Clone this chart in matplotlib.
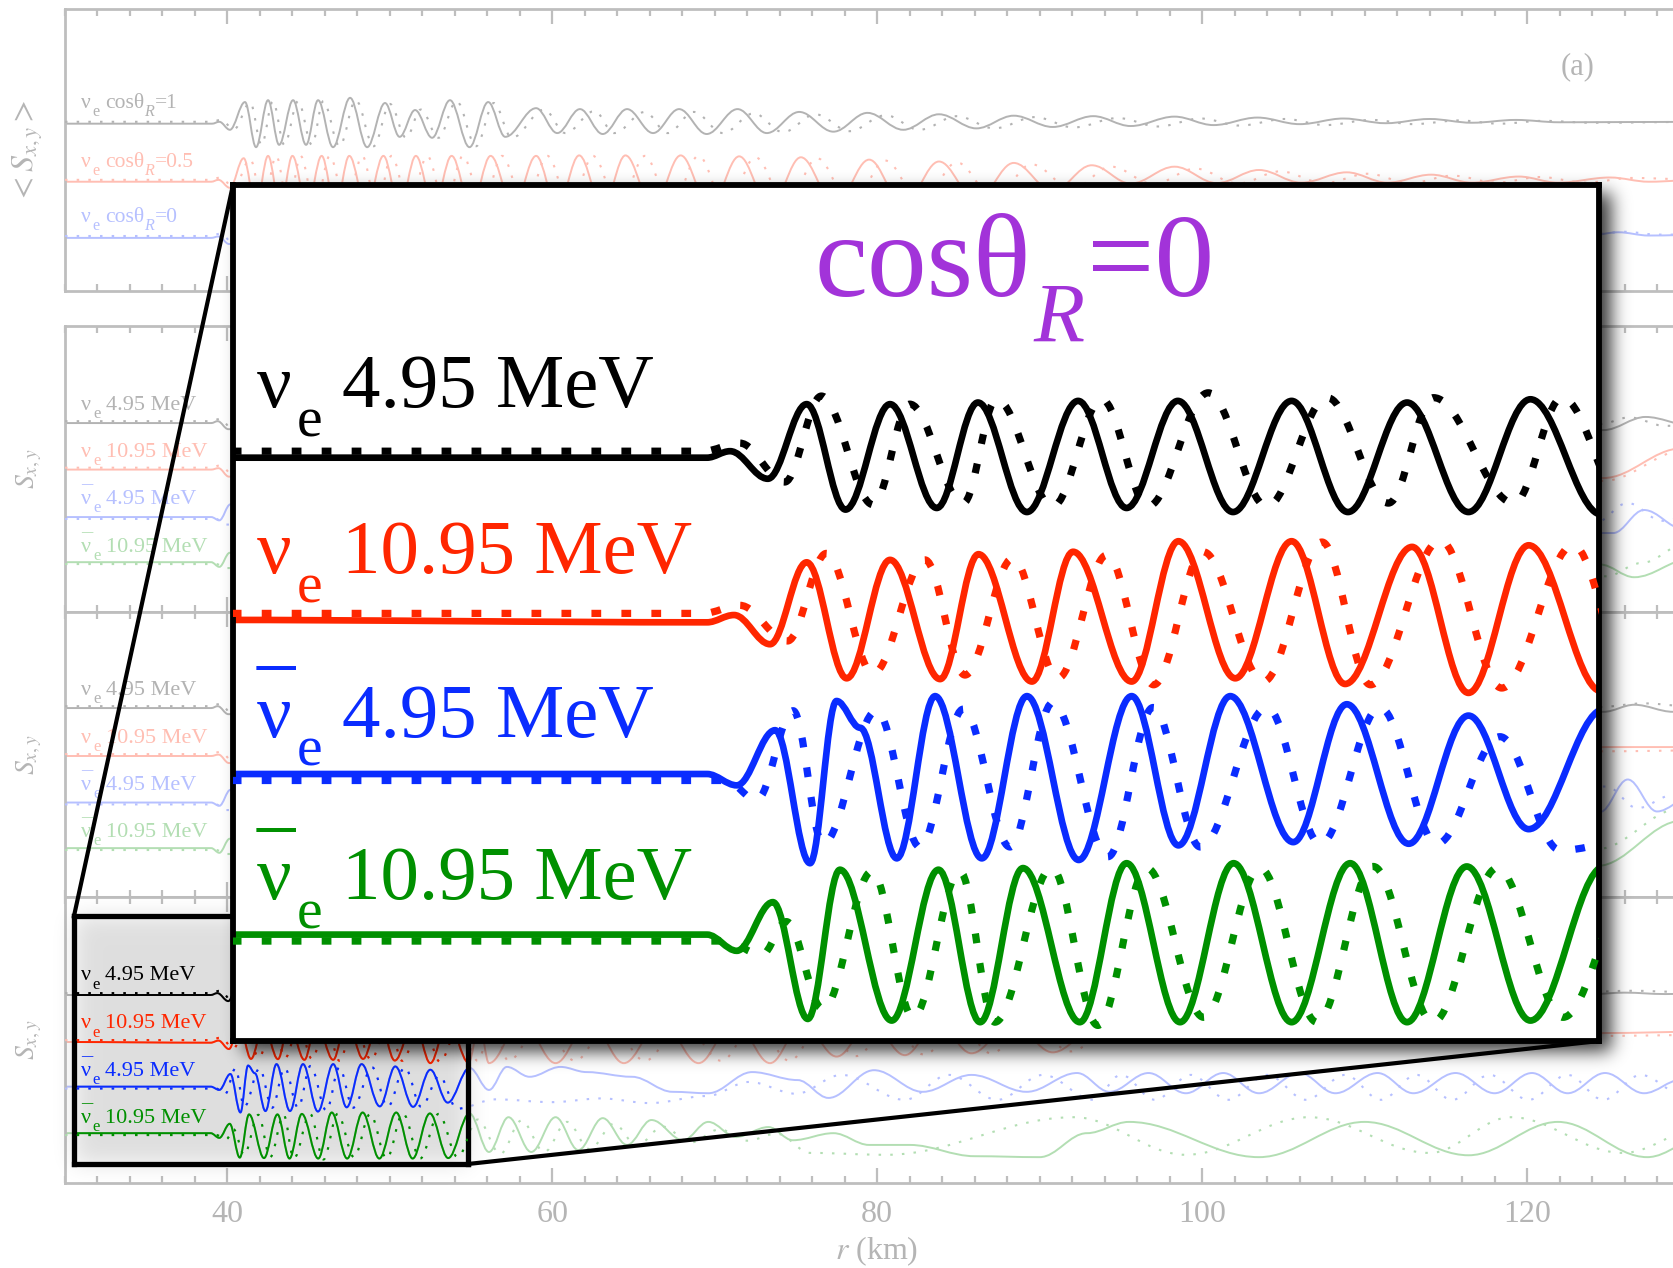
import numpy as np
import matplotlib
matplotlib.use("Agg")
import matplotlib.pyplot as plt
from matplotlib.path import Path
from matplotlib.patches import PathPatch
from matplotlib.lines import Line2D
from matplotlib.ticker import MultipleLocator
from matplotlib.colors import to_rgb

# ---------------- data (r in km, S relative to each curve's own offset) ----------------
# panel 1 : nu_e with cos(theta_R) = 1, 0.5, 0
p1_cos1_r = [30, 39.05, 39.5, 40.15, 41.08, 41.76, 42.5, 43.18, 44.04, 44.84, 45.58, 46.5, 47.55, 48.6, 49.7, 50.6,
             51.55, 52.6, 53.7, 54.9, 56.05, 57.1, 59.0, 60.3, 61.7, 63.1, 64.6, 66.2, 67.8, 69.5, 71.4, 73.2, 75.2,
             77.3, 79.4, 81.6, 83.8, 86.1, 88.4, 90.8, 93.3, 95.6, 98.3, 100.7, 103.4, 106.0, 108.7, 111.3, 114.0,
             116.6, 119.3, 122, 131]
p1_cos1_s = [0, 0, 0.04, -0.13, 0.46, -0.50, 0.50, -0.45, 0.50, -0.45, 0.50, -0.50, 0.55, -0.50, 0.44, -0.28,
             0.29, -0.30, 0.50, -0.50, 0.46, -0.28, 0.33, -0.20, 0.31, -0.22, 0.31, -0.20, 0.31, -0.22, 0.31, -0.20,
             0.25, -0.17, 0.23, -0.13, 0.20, -0.10, 0.17, -0.07, 0.16, -0.05, 0.15, -0.03, 0.13, -0.01, 0.11, 0.01,
             0.10, 0.02, 0.08, 0.03, 0.04]
p1_cos1_dot_r = [30, 39.0, 39.6, 40.4, 41.4, 42.1, 42.8, 43.5, 44.35, 45.2, 45.9, 46.9, 47.9, 49.0, 50.0, 51.0,
                 51.9, 53.0, 54.1, 55.3, 56.4, 57.5, 59.5, 60.8, 62.6, 63.8, 65.7, 67.1, 68.7, 70.5, 72.4, 74.2,
                 76.2, 78.3, 80.5, 82.6, 84.9, 87.2, 89.7, 92.1, 94.8, 97.3, 99.9, 102.3, 105.1, 107.6, 110.4,
                 113.0, 115.8, 118.3, 121.0, 124, 131]
p1_cos1_dot_s = [0.04, 0.04, 0.08, -0.12, 0.45, -0.45, 0.48, -0.45, 0.48, -0.45, 0.48, -0.48, 0.50, -0.48, 0.42,
                 -0.3, 0.3, -0.3, 0.48, -0.48, 0.44, -0.3, 0.3, -0.2, 0.27, -0.2, 0.25, -0.2, 0.25, -0.2, 0.22,
                 -0.18, 0.2, -0.16, 0.18, -0.13, 0.16, -0.1, 0.14, -0.08, 0.12, -0.06, 0.11, -0.04, 0.10, -0.03,
                 0.08, -0.01, 0.07, 0.0, 0.06, 0.02, 0.04]
p1_cos05_r = [30, 39.0, 39.45, 40.15, 41.0, 41.75, 42.5, 43.25, 44.0, 44.9, 45.8, 46.65, 47.5, 48.55, 49.6, 50.6,
              51.6, 52.7, 53.8, 55.0, 56.2, 57.6, 59.0, 60.3, 61.65, 63.1, 64.5, 66.2, 67.9, 69.7, 71.5, 73.4, 75.3,
              77.4, 79.5, 81.6, 83.8, 86.1, 88.4, 90.8, 93.2, 95.6, 98.3, 100.9, 103.5, 106.1, 108.9, 111.4, 114.1,
              116.6, 119.5, 121.9, 125.1, 127.5, 131]
p1_cos05_s = [0, 0, 0.04, -0.13, 0.50, -0.55, 0.55, -0.55, 0.55, -0.55, 0.55, -0.55, 0.55, -0.55, 0.55, -0.55,
              0.55, -0.55, 0.55, -0.55, 0.55, -0.55, 0.55, -0.55, 0.56, -0.55, 0.56, -0.55, 0.56, -0.55, 0.54, -0.55,
              0.52, -0.5, 0.47, -0.5, 0.43, -0.4, 0.40, -0.2, 0.35, -0.04, 0.32, -0.03, 0.25, -0.02, 0.20, -0.02,
              0.15, -0.02, 0.11, -0.02, 0.09, 0.0, 0.05]
p1_cos05_dot_r = [30, 39.0, 39.55, 40.4, 41.4, 42.2, 43.0, 43.75, 44.5, 45.4, 46.3, 47.3, 48.3, 49.2, 50.1, 51.2,
                  52.3, 53.4, 54.5, 55.7, 56.9, 58.3, 59.7, 61.1, 62.5, 64.1, 65.7, 67.3, 69.0, 70.7, 72.5, 74.4,
                  76.3, 78.4, 80.5, 82.7, 84.9, 87.2, 89.5, 92.0, 94.4, 97.0, 99.6, 102.2, 104.8, 107.5, 110.2,
                  112.8, 115.4, 118.1, 120.8, 123.6, 126.4, 131]
p1_cos05_dot_s = [0.04, 0.04, 0.09, -0.12, 0.48, -0.55, 0.55, -0.55, 0.55, -0.55, 0.55, -0.55, 0.55, -0.55, 0.55,
                  -0.55, 0.55, -0.55, 0.55, -0.55, 0.55, -0.55, 0.55, -0.55, 0.55, -0.55, 0.55, -0.55, 0.55, -0.55,
                  0.52, -0.5, 0.50, -0.5, 0.45, -0.45, 0.41, -0.35, 0.37, -0.15, 0.32, -0.05, 0.28, -0.04, 0.22,
                  -0.03, 0.17, -0.03, 0.13, -0.02, 0.10, -0.02, 0.08, 0.04]
p1_cos0_r = [30, 39.0, 39.45, 40.1, 124.0, 125.6, 127.5, 131]
p1_cos0_s = [0, 0, 0.03, -0.13, 0.06, 0.12, 0.05, 0.07]
p1_cos0_dot_r = [30, 39.0, 39.55, 40.4, 124.2, 126.0, 128.0, 131]
p1_cos0_dot_s = [0.04, 0.04, 0.09, -0.12, 0.08, 0.13, 0.07, 0.07]

# panel 2 -- only the parts left of and right of the inset can be read
p2_nue5_r = [30, 39.0, 39.4, 40.05, 124.7, 127.3, 130]
p2_nue5_s = [0, 0, 0.04, -0.13, -0.15, 0.13, -0.04]
p2_nue5_dot_r = [30, 39.0, 39.55, 40.35, 124.5, 126.3, 128.5, 131]
p2_nue5_dot_s = [0.04, 0.04, 0.09, -0.15, -0.02, 0.12, -0.06, 0.0]
p2_nue11_r = [30, 39.0, 39.45, 40.09, 124.7, 129.5]
p2_nue11_s = [0, 0, 0.03, -0.15, -0.18, 0.45]
p2_nue11_dot_r = [30, 39.0, 39.55, 40.4, 124.7, 129.8]
p2_nue11_dot_s = [0.04, 0.04, 0.09, -0.13, -0.24, 0.42]
p2_nub5_r = [30, 39.0, 39.5, 40.18, 125.3, 127.2, 129.6]
p2_nub5_s = [0, 0, -0.07, 0.27, -0.34, 0.15, -0.25]
p2_nub5_dot_r = [30, 39.0, 39.3, 39.85, 124.2, 126.2, 128.3, 131]
p2_nub5_dot_s = [-0.04, -0.04, -0.04, -0.16, -0.12, 0.30, -0.08, 0.1]
p2_nub11_r = [30, 39.0, 39.5, 40.14, 124.5, 126.6, 130]
p2_nub11_s = [0.02, 0.02, -0.08, 0.22, -0.03, -0.30, 0.08]
p2_nub11_dot_r = [30, 39.0, 39.3, 39.94, 124.9, 127.0, 130]
p2_nub11_dot_s = [-0.02, -0.02, -0.02, -0.105, -0.28, 0.0, 0.45]

# panel 3
p3_nue5_r = [30, 39.0, 39.4, 40.05, 124.7, 126.6, 129.0, 131]
p3_nue5_s = [0, 0, 0.04, -0.13, -0.08, 0.07, -0.08, -0.03]
p3_nue5_dot_r = [30, 39.0, 39.55, 40.35, 124.4, 127.2, 131]
p3_nue5_dot_s = [0.04, 0.04, 0.09, -0.15, 0.02, 0.10, 0.0]
p3_nue11_r = [30, 39.0, 39.45, 40.09, 124.7, 131]
p3_nue11_s = [0, 0, 0.03, -0.15, 0.19, 0.19]
p3_nue11_dot_r = [30, 39.0, 39.55, 40.4, 124.7, 131]
p3_nue11_dot_s = [0.04, 0.04, 0.09, -0.13, 0.1, 0.12]
p3_nub5_r = [30, 39.0, 39.5, 40.18, 124.5, 126.2, 128.0, 130]
p3_nub5_s = [0, 0, -0.07, 0.27, -0.2, 0.49, -0.19, 0.1]
p3_nub5_dot_r = [30, 39.0, 39.3, 39.85, 124.9, 126.8, 128.9, 131]
p3_nub5_dot_s = [-0.04, -0.04, -0.04, -0.16, 0.34, -0.12, 0.15, 0.0]
p3_nub11_r = [30, 39.0, 39.5, 40.14, 124.3, 129.5]
p3_nub11_s = [0.02, 0.02, -0.08, 0.22, -0.36, 0.6]
p3_nub11_dot_r = [30, 39.0, 39.3, 39.94, 124.3, 129.5]
p3_nub11_dot_s = [-0.02, -0.02, -0.02, -0.105, 0.0, 0.87]

# panel 4 (cos = 0) -- the one that is magnified
p4_nue5_r = [30, 38.97, 39.38, 40.05, 40.74, 41.43, 42.22, 43.05, 43.78, 44.65, 45.56, 46.42, 47.33, 48.31, 49.35,
             50.35, 51.40, 52.49, 53.59, 54.85, 124.0, 126.0, 128.5, 131]
p4_nue5_s = [0, 0, 0.04, -0.13, 0.33, -0.32, 0.33, -0.31, 0.34, -0.335, 0.35, -0.31, 0.35, -0.335, 0.35, -0.335,
             0.34, -0.335, 0.36, -0.35, 0.02, 0.05, 0.02, 0.03]
p4_nue5_dot_r = [30, 38.9, 39.55, 40.35, 41.0, 41.92, 42.57, 43.52, 44.11, 45.11, 45.98, 46.8, 47.87, 48.91, 49.98,
                 51.07, 51.87, 53.3, 54.15, 55.3, 124, 126.5, 129, 131]
p4_nue5_dot_s = [0.04, 0.04, 0.09, -0.15, 0.38, -0.29, 0.33, -0.28, 0.36, -0.30, 0.36, -0.30, 0.40, -0.30, 0.37,
                 -0.28, 0.37, -0.28, 0.37, -0.3, 0.07, 0.09, 0.07, 0.08]
p4_nue11_r = [30, 38.97, 39.45, 40.09, 40.74, 41.45, 42.22, 43.11, 43.79, 44.74, 45.47, 46.51, 47.34, 48.35, 49.35,
              50.30, 51.49, 52.49, 53.56, 54.85, 55.5, 56.1, 58.1, 60.2, 62.3, 64.4, 66.7, 69.0, 71.2, 73.4, 75.4,
              77.5, 79.6, 81.7, 83.7, 85.8, 88.3, 90.8, 93.5, 124.5, 131]
p4_nue11_s = [0, -0.015, 0.03, -0.15, 0.355, -0.36, 0.37, -0.365, 0.405, -0.38, 0.42, -0.38, 0.485, -0.36, 0.485,
              -0.395, 0.45, -0.45, 0.46, -0.44, 0.4, -0.45, 0.45, -0.45, 0.45, -0.45, 0.45, -0.45, 0.45, -0.45, 0.4,
              -0.31, 0.4, -0.28, 0.4, -0.24, 0.4, -0.22, 0.3, 0.19, 0.22]
p4_nue11_dot_r = [30, 38.9, 39.55, 40.4, 41.09, 41.92, 42.84, 43.55, 44.4, 45.2, 46.07, 46.9, 47.78, 48.85, 49.89,
                  50.75, 51.99, 53.08, 54.35, 55.4, 56.3, 57.3, 59.3, 61.4, 63.5, 65.7, 68.0, 70.4, 72.5, 74.6,
                  76.6, 78.7, 80.8, 82.9, 85.0, 87.0, 89.4, 91.9, 94.5, 124.5, 131]
p4_nue11_dot_s = [0.04, 0.04, 0.09, -0.13, 0.41, -0.33, 0.37, -0.34, 0.38, -0.36, 0.40, -0.40, 0.42, -0.38, 0.48,
                  -0.40, 0.49, -0.42, 0.46, -0.4, 0.4, -0.4, 0.42, -0.4, 0.42, -0.4, 0.42, -0.4, 0.42, -0.4, 0.4,
                  -0.3, 0.4, -0.27, 0.4, -0.24, 0.4, -0.2, 0.3, 0.13, 0.15]
p4_nub5_r = [30, 38.97, 39.5, 40.18, 40.8, 41.27, 41.69, 42.34, 43.02, 43.85, 44.65, 45.57, 46.51, 47.34, 48.26,
             49.38, 50.33, 51.43, 52.49, 53.56, 54.9, 56.1, 57.2, 58.6, 60.5, 62.1, 64.9, 67.4, 69.6, 72.3, 75.1,
             77.0, 79.8, 82.8, 85.8, 89.2, 92.3, 94.3, 96.7, 99.0, 101.3, 103.5, 106.0, 108.2, 110.8, 113.0, 115.6,
             118.0, 120.3, 122.5, 124.8, 127.2, 129.5]
p4_nub5_s = [0, 0, -0.07, 0.27, -0.55, 0.45, 0.285, -0.52, 0.48, -0.52, 0.48, -0.53, 0.48, -0.44, 0.48, -0.42,
             0.43, -0.43, 0.36, -0.34, 0.40, -0.07, 0.42, 0.21, 0.42, 0.31, 0.21, -0.11, -0.14, 0.31, 0.14, -0.24,
             0.35, -0.11, 0.25, -0.11, 0.29, -0.11, 0.29, -0.14, 0.29, -0.14, 0.29, -0.14, 0.29, -0.14, 0.29,
             -0.14, 0.29, -0.14, 0.29, -0.14, 0.15]
p4_nub5_dot_r = [30, 38.9, 39.3, 39.85, 40.5, 41.03, 41.98, 42.75, 43.52, 44.35, 45.11, 46.09, 46.89, 47.73, 48.91,
                 49.86, 50.92, 51.93, 53.05, 54.12, 56.5, 60.0, 63.0, 66.0, 69.5, 72.1, 75.0, 77.8, 81.7, 84.4,
                 87.4, 90.2, 93.3, 95.0, 97.1, 99.3, 101.6, 104.0, 106.4, 108.8, 111.0, 113.2, 115.4, 117.7, 120.1,
                 122.5, 124.7, 127.0, 129.5]
p4_nub5_dot_s = [-0.04, -0.04, -0.04, -0.16, 0.39, -0.43, 0.39, -0.45, 0.40, -0.45, 0.44, -0.51, 0.41, -0.45, 0.41,
                 -0.43, 0.41, -0.43, 0.23, -0.47, -0.27, -0.33, -0.25, -0.35, -0.2, 0.1, -0.15, 0.25, -0.28, 0.25,
                 -0.28, 0.25, -0.28, 0.25, -0.28, 0.25, -0.28, 0.25, -0.28, 0.25, -0.28, 0.25, -0.28, 0.25, -0.28,
                 0.25, -0.28, 0.25, -0.15]
p4_nub11_r = [30, 38.97, 39.5, 40.14, 40.76, 41.33, 42.25, 43.08, 43.82, 44.58, 45.59, 46.42, 47.37, 48.32, 49.35,
              50.39, 51.4, 52.46, 53.59, 54.9, 56.1, 57.3, 58.7, 60.2, 61.6, 63.1, 64.6, 66.1, 68.05, 69.6, 71.3,
              73.3, 74.8, 77.3, 79.5, 82.0, 86.0, 90.0, 92.9, 95.5, 103.5, 110.0, 116.4, 121.9, 127.4, 131]
p4_nub11_s = [0.02, 0.02, -0.08, 0.22, -0.50, 0.42, -0.51, 0.42, -0.52, 0.43, -0.52, 0.46, -0.52, 0.46, -0.52,
              0.46, -0.52, 0.44, -0.51, 0.44, -0.38, 0.36, -0.38, 0.36, -0.34, 0.34, -0.23, 0.30, -0.13, 0.26,
              -0.06, 0.15, -0.13, 0.02, -0.23, -0.23, -0.47, -0.49, 0.02, 0.26, -0.49, 0.26, -0.45, 0.26, -0.49,
              -0.04]
p4_nub11_dot_r = [30, 38.9, 39.3, 39.94, 40.38, 41.03, 41.9, 42.63, 43.46, 44.08, 45.09, 45.91, 46.78, 47.79,
                  48.79, 49.8, 50.8, 51.86, 53.0, 54.17, 55.4, 56.8, 58.1, 59.5, 60.9, 62.3, 63.8, 65.2, 66.8, 68.5,
                  70.3, 72.0, 73.8, 75.9, 80.5, 92.1, 99.0, 106.6, 114.0, 119.0, 125.9, 131]
p4_nub11_dot_s = [-0.02, -0.02, -0.02, -0.105, 0.10, -0.44, 0.41, -0.49, 0.41, -0.52, 0.43, -0.54, 0.43, -0.49,
                  0.43, -0.52, 0.44, -0.52, 0.43, -0.49, 0.31, -0.42, 0.29, -0.38, 0.26, -0.32, 0.22, -0.24, 0.16,
                  -0.18, 0.10, -0.14, 0.01, -0.40, -0.44, 0.36, -0.44, 0.36, -0.40, 0.36, -0.40, 0.16]

energies = ['4.95 MeV', '10.95 MeV', '4.95 MeV', '10.95 MeV']
antineutrino = [False, False, True, True]
p1_cos_values = ['1', '0.5', '0']
xticks = [40, 60, 80, 100, 120]

# ---------------- style ----------------
W, H = 1674, 1268
plt.rcParams['font.family'] = ['Liberation Serif', 'DejaVu Serif']
plt.rcParams['mathtext.fontset'] = 'stix'

BLACK, RED, BLUE, GREEN = '#000000', '#FF2600', '#0A2CFF', '#009000'
PURPLE = '#A233D9'
AXGRAY = '#BEBEBE'
TXTGRAY = '#B5B5B5'
LEVEL = 47.0  # pixels per unit of S offset
DOT_SMALL = (1.2, 4.4)
DOT_BIG = (1.35, 2.8)


def fade(c, a=0.3):
    rgb = np.array(to_rgb(c))
    return tuple(1 - a * (1 - rgb))


def wave(r, s, base):
    r = np.asarray(r, float)
    y = base + np.asarray(s, float)
    verts = [(r[0], y[0])]
    codes = [Path.MOVETO]
    for i in range(1, len(r)):
        d = 0.36 * (r[i] - r[i - 1])
        verts += [(r[i - 1] + d, y[i - 1]), (r[i] - d, y[i]), (r[i], y[i])]
        codes += [Path.CURVE4] * 3
    return Path(verts, codes)


def draw(ax, r, s, base, color, lw, dotted=False, dash=DOT_SMALL):
    ls = (0, dash) if dotted else '-'
    ax.add_patch(PathPatch(wave(r, s, base), fill=False, edgecolor=color, lw=lw,
                           linestyle=ls, capstyle='butt', joinstyle='round', zorder=3 if dotted else 2))


def put_pieces(ax, x, y, pieces, color, size, transform=None):
    # pieces: (text, dx in em, dy in em, relative size, style)
    kw = {} if transform is None else {'xycoords': transform}
    for text, dx, dy, rel, style in pieces:
        ax.annotate(text, xy=(x, y), xytext=(dx * size, dy * size), textcoords='offset points',
                    color=color, fontsize=size * rel, fontstyle=style, ha='left', va='baseline',
                    zorder=5, annotation_clip=False, **kw)


def nu_pieces(rest, bar):
    p = [('ν', 0, 0, 1, 'normal'), ('e', 0.53, -0.38, 0.75, 'normal')] + rest
    if bar:
        p.append(('_', 0.0, 1.0, 1, 'normal'))
    return p


def pix_axes(x0, y0, x1, y1, z):
    return fig.add_axes([x0 / W, 1 - y1 / H, (x1 - x0) / W, (y1 - y0) / H], zorder=z)


def blurred_box(x0, y0, x1, y1, sigma, pad=160):
    m = np.zeros((H + 2 * pad, W + 2 * pad))
    m[int(y0) + pad:int(y1) + pad, int(x0) + pad:int(x1) + pad] = 1.0
    fy = np.fft.fftfreq(m.shape[0])[:, None]
    fx = np.fft.fftfreq(m.shape[1])[None, :]
    k = np.exp(-2 * (np.pi * sigma) ** 2 * (fx ** 2 + fy ** 2))
    b = np.real(np.fft.ifft2(np.fft.fft2(m) * k))
    return np.clip(b[pad:pad + H, pad:pad + W], 0, 1)


def overlay(alpha, z):
    ax = fig.add_axes([0, 0, 1, 1], zorder=z)
    rgba = np.zeros((H, W, 4))
    rgba[..., 3] = alpha
    ax.imshow(rgba, interpolation='nearest', aspect='auto')
    ax.set_axis_off()


fig = plt.figure(figsize=(W / 100, H / 100), dpi=100)
fig.patch.set_facecolor('white')

# ---------------- background panels (faded) ----------------
panel_px = [(8.5, 291), (326, 612), (612, 897), (897, 1183)]
panels = []
for i, (top, bot) in enumerate(panel_px):
    ax = pix_axes(65, top, 65 + 100 * 16.245, bot, 0)
    ax.set_xlim(30, 130)
    ax.set_ylim(0, (bot - top) / LEVEL)
    ax.set_xticks(xticks)
    ax.xaxis.set_minor_locator(MultipleLocator(2))
    ax.tick_params(axis='x', which='major', direction='in', length=10.5, width=1.6, color=AXGRAY,
                   top=True, bottom=True, labelsize=23, labelcolor=TXTGRAY, pad=12,
                   labelbottom=(i == 3))
    ax.tick_params(axis='x', which='minor', direction='in', length=5, width=1.6, color=AXGRAY,
                   top=True, bottom=True)
    ax.tick_params(axis='y', left=False, labelleft=False)
    for sp in ax.spines.values():
        sp.set_color(AXGRAY)
        sp.set_linewidth(2)
    panels.append(ax)

lw_s, lw_d = 1.4, 1.5
fcols = [fade(BLACK), fade(RED), fade(BLUE), fade(GREEN)]

p1_off = [3.56, 2.325, 1.13]
p1_curves = [(p1_cos1_r, p1_cos1_s, p1_cos1_dot_r, p1_cos1_dot_s),
             (p1_cos05_r, p1_cos05_s, p1_cos05_dot_r, p1_cos05_dot_s),
             (p1_cos0_r, p1_cos0_s, p1_cos0_dot_r, p1_cos0_dot_s)]
p1_label_y = [3.89, 2.645, 1.475]
for k, (r, s, rd, sd) in enumerate(p1_curves):
    draw(panels[0], r, s, p1_off[k], fcols[k], lw_s)
    draw(panels[0], rd, sd, p1_off[k], fcols[k], lw_d, dotted=True)
    rest = [('cosθ', 1.11, 0, 1, 'normal'), ('R', 2.94, -0.38, 0.75, 'italic'),
            ('=' + p1_cos_values[k], 3.40, 0, 1, 'normal')]
    put_pieces(panels[0], 31.0, p1_label_y[k], nu_pieces(rest, False), fcols[k], 15.5)
fig.text(1578 / W, 1 - 67 / H, '(a)', ha='center', va='center', fontsize=22, color=TXTGRAY)

p2_curves = [(p2_nue5_r, p2_nue5_s, p2_nue5_dot_r, p2_nue5_dot_s),
             (p2_nue11_r, p2_nue11_s, p2_nue11_dot_r, p2_nue11_dot_s),
             (p2_nub5_r, p2_nub5_s, p2_nub5_dot_r, p2_nub5_dot_s),
             (p2_nub11_r, p2_nub11_s, p2_nub11_dot_r, p2_nub11_dot_s)]
p3_curves = [(p3_nue5_r, p3_nue5_s, p3_nue5_dot_r, p3_nue5_dot_s),
             (p3_nue11_r, p3_nue11_s, p3_nue11_dot_r, p3_nue11_dot_s),
             (p3_nub5_r, p3_nub5_s, p3_nub5_dot_r, p3_nub5_dot_s),
             (p3_nub11_r, p3_nub11_s, p3_nub11_dot_r, p3_nub11_dot_s)]
p4_curves = [(p4_nue5_r, p4_nue5_s, p4_nue5_dot_r, p4_nue5_dot_s),
             (p4_nue11_r, p4_nue11_s, p4_nue11_dot_r, p4_nue11_dot_s),
             (p4_nub5_r, p4_nub5_s, p4_nub5_dot_r, p4_nub5_dot_s),
             (p4_nub11_r, p4_nub11_s, p4_nub11_dot_r, p4_nub11_dot_s)]
offsets = {1: [4.02, 3.03, 2.02, 1.04], 2: [4.02, 3.0, 2.01, 1.02], 3: [4.0, 3.0, 2.05, 1.04]}
label_y = {1: [4.30, 3.30, 2.30, 1.28], 2: [4.30, 3.28, 2.28, 1.28], 3: [4.31, 3.29, 2.28, 1.28]}


def species_pieces(k):
    return nu_pieces([(energies[k], 1.11, 0, 1, 'normal')], antineutrino[k])


for pi, curves in zip([1, 2, 3], [p2_curves, p3_curves, p4_curves]):
    for k, (r, s, rd, sd) in enumerate(curves):
        draw(panels[pi], r, s, offsets[pi][k], fcols[k], lw_s)
        draw(panels[pi], rd, sd, offsets[pi][k], fcols[k], lw_d, dotted=True)
        if pi < 3:
            put_pieces(panels[pi], 31.0, label_y[pi][k], species_pieces(k), fcols[k], 16)

fig.text(877 / W, 1 - 1251 / H, r'$r$ (km)', ha='center', va='center', fontsize=23, color=TXTGRAY)
fig.text(28 / W, 1 - 151 / H, r'$<S_{x,y}>$', rotation=90, ha='center', va='center', fontsize=23,
         color=TXTGRAY)
for top, bot in panel_px[1:]:
    fig.text(29 / W, 1 - (top + bot) / 2 / H, r'$S_{x,y}$', rotation=90, ha='center', va='center',
             fontsize=20, color=TXTGRAY)

# ---------------- small (source) box ----------------
xlim_zoom = (30.554, 54.808)
ylim_zoom = (0.404, 5.681)
colors = [BLACK, RED, BLUE, GREEN]

overlay(blurred_box(74, 916, 468, 1164, 11) * 0.13, 1)

ax_s = pix_axes(74, 916, 468, 1164, 2)
ax_s.set_facecolor('none')
ax_s.set_xlim(*xlim_zoom)
ax_s.set_ylim(*ylim_zoom)
ax_s.set_xticks([])
ax_s.set_yticks([])
for sp in ax_s.spines.values():
    sp.set_color('black')
    sp.set_linewidth(3.8)
for k, (r, s, rd, sd) in enumerate(p4_curves):
    draw(ax_s, r, s, offsets[3][k], colors[k], lw_s)
    draw(ax_s, rd, sd, offsets[3][k], colors[k], lw_d, dotted=True)
    put_pieces(ax_s, 30.97, label_y[3][k], species_pieces(k), colors[k], 16)

# connecting lines
fig.add_artist(Line2D([74 / W, 233 / W], [1 - 916 / H, 1 - 185 / H], transform=fig.transFigure,
                      color='black', lw=3, zorder=3))
fig.add_artist(Line2D([468 / W, 1599 / W], [1 - 1164 / H, 1 - 1041 / H], transform=fig.transFigure,
                      color='black', lw=3, zorder=3))

# ---------------- big magnified box ----------------
overlay(blurred_box(243, 193, 1611, 1051, 9) * 0.8, 4)

ax_b = pix_axes(233, 185, 1599, 1041, 5)
ax_b.set_facecolor('white')
ax_b.set_xlim(*xlim_zoom)
ax_b.set_ylim(*ylim_zoom)
ax_b.set_xticks([])
ax_b.set_yticks([])
for sp in ax_b.spines.values():
    sp.set_color('black')
    sp.set_linewidth(4.2)
for k, (r, s, rd, sd) in enumerate(p4_curves):
    draw(ax_b, r, s, offsets[3][k], colors[k], 4.8)
    draw(ax_b, rd, sd, offsets[3][k], colors[k], 5.2, dotted=True, dash=DOT_BIG)
    put_pieces(ax_b, 30.97, label_y[3][k], species_pieces(k), colors[k], 55.4)
title = [('cosθ', 0, 0, 1, 'normal'), ('R', 1.83, -0.38, 0.7, 'italic'), ('=0', 2.28, 0, 1, 'normal')]
put_pieces(ax_b, 0.426, 0.870, title, PURPLE, 86, transform=ax_b.transAxes)

fig.savefig('out.png', dpi=100)
